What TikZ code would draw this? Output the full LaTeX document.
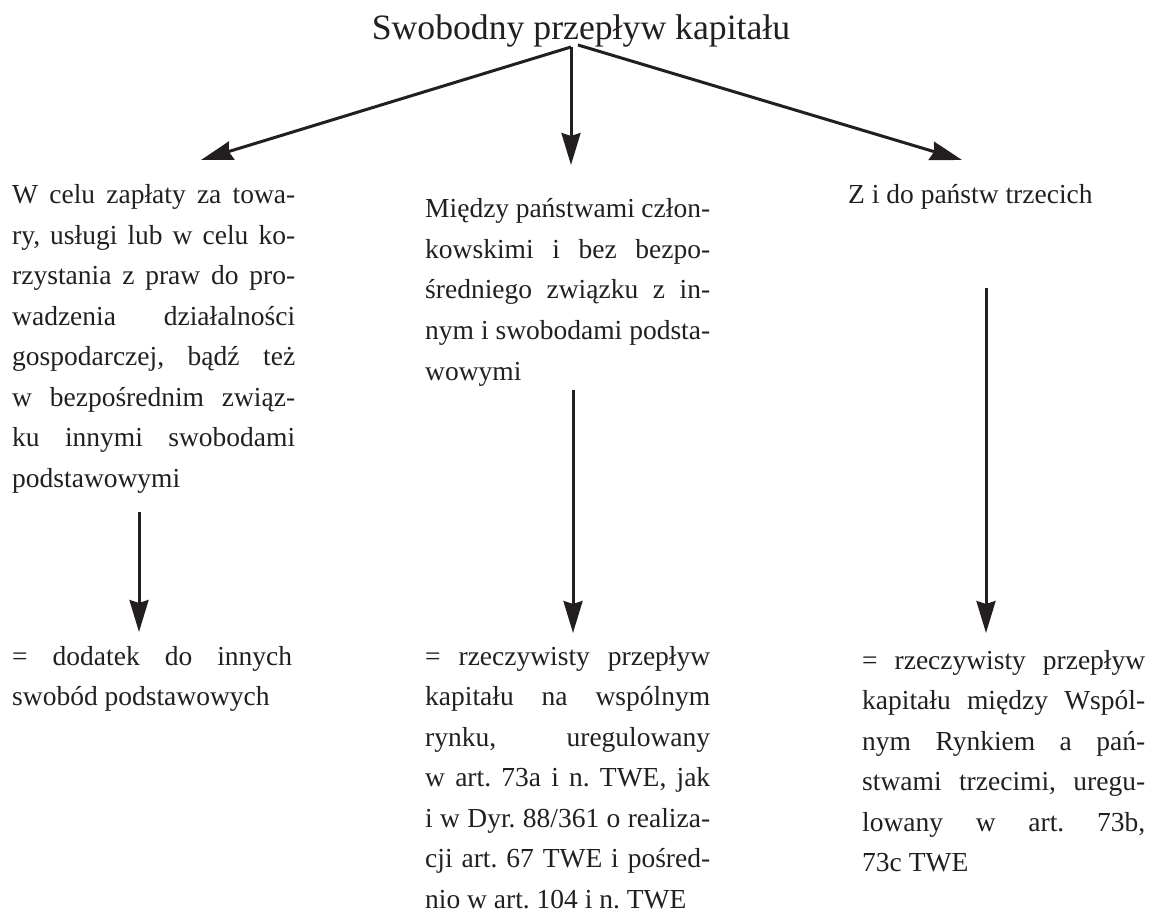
\documentclass[tikz,border=0pt]{standalone}
\usepackage{fontspec}
\setmainfont{Liberation Serif}
\usetikzlibrary{arrows.meta}
\definecolor{ink}{RGB}{35,31,32}
\newlength\cw
\newcommand\J[1]{\hbox to \cw{#1}}
\newcommand\E[1]{\hbox{#1}}
\newcommand\bodyfont{\fontsize{27.5pt}{40.5pt}\selectfont\frenchspacing}
\tikzset{
  txt/.style={anchor=base west, inner sep=0pt, text=ink, font=\bodyfont},
  arr/.style={draw=ink, line width=3pt, -{Stealth[length=32pt,width=19pt,inset=3pt]}}
}
\begin{document}
\begin{tikzpicture}[x=1pt,y=-1pt]
\useasboundingbox (0,0) rectangle (1155,917);
% title
\node[anchor=base, inner sep=0pt, text=ink, font=\fontsize{35.7pt}{40pt}\selectfont] (title) at (581,40) {Swobodny przepływ kapitału};
% top-level texts
\node[txt] (a1) at (12,204) {\vtop{\cw=283pt\bodyfont
\J{W celu zapłaty za towa-}
\J{ry, usługi lub w celu ko-}
\J{rzystania z praw do pro-}
\J{wadzenia działalności}
\J{gospodarczej, bądź też}
\J{w bezpośrednim związ-}
\J{ku innymi swobodami}
\E{podstawowymi}}};
\node[txt] (b1) at (425,218) {\vtop{\cw=285pt\bodyfont
\J{Między państwami człon-}
\J{kowskimi i bez bezpo-}
\J{średniego związku z in-}
\J{nym i swobodami podsta-}
\E{wowymi}}};
\node[txt] (c1) at (848,204) {\vtop{\bodyfont
\E{Z i do państw trzecich}}};
% bottom texts
\node[txt] (a2) at (12,665) {\vtop{\cw=280pt\bodyfont
\J{= dodatek do innych}
\E{swobód podstawowych}}};
\node[txt] (b2) at (425,665) {\vtop{\cw=285pt\bodyfont
\J{= rzeczywisty przepływ}
\J{kapitału na wspólnym}
\J{rynku, uregulowany}
\J{w art. 73a i n. TWE, jak}
\J{i w Dyr. 88/361 o realiza-}
\J{cji art. 67 TWE i pośred-}
\E{nio w art. 104 i n. TWE}}};
\node[txt] (c2) at (862,669) {\vtop{\cw=283pt\bodyfont
\J{= rzeczywisty przepływ}
\J{kapitału między Wspól-}
\J{nym Rynkiem a pań-}
\J{stwami trzecimi, uregu-}
\J{lowany w art. 73b,}
\E{73c TWE}}};
% connector end points
\coordinate (oL) at (571,47);
\coordinate (oR) at (578,45);
\coordinate (tA) at (201,160);
\coordinate (tB) at (571,165);
\coordinate (tC) at (962,160);
\coordinate (sA) at (139,512);
\coordinate (eA) at (139,632);
\coordinate (sB) at (573,390);
\coordinate (eB) at (573,633);
\coordinate (sC) at (986,288);
\coordinate (eC) at (986,633);
\draw[arr] (oL) -- (tA);
\draw[arr] (oL) -- (tB);
\draw[arr] (oR) -- (tC);
\draw[arr] (sA) -- (eA);
\draw[arr] (sB) -- (eB);
\draw[arr] (sC) -- (eC);
\end{tikzpicture}
\end{document}
